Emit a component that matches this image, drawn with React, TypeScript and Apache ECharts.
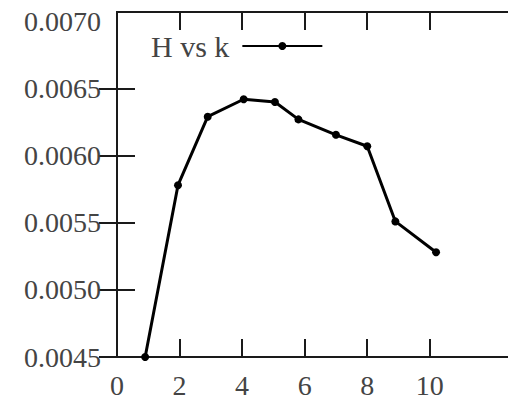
import React, { useEffect, useRef } from "react";
import * as echarts from "echarts";

const kValues = [0.9, 1.95, 2.9, 4.05, 5.05, 5.8, 7.0, 8.0, 8.9, 10.2];
const hValues = [0.0045, 0.00578, 0.00629, 0.00642, 0.0064, 0.00627, 0.006155, 0.00607, 0.00551, 0.00528];
const xTicks = [0, 2, 4, 6, 8, 10];
const yTicks = [0.0045, 0.005, 0.0055, 0.006, 0.0065];
const yLabels = [0.0045, 0.005, 0.0055, 0.006, 0.0065, 0.007];
const seriesName = "H vs k";

const FONT = "'Liberation Serif', 'DejaVu Serif', serif";
const INK = "#1a1a1a";

export default function App() {
  const ref = useRef<HTMLDivElement>(null);
  useEffect(() => {
    document.body.style.margin = "0";
    const chart = echarts.init(ref.current!, undefined, { renderer: "svg" });
    const axisLine = { show: true, lineStyle: { color: INK, width: 2 } };
    const tick = (vals: number[]) => ({
      show: true,
      inside: true,
      length: 18,
      lineStyle: { color: INK, width: 2 },
      customValues: vals,
    });
    chart.setOption({
      animation: false,
      backgroundColor: "#fff",
      grid: { left: 117, top: 12, width: 393, bottom: 43, containLabel: false },
      legend: {
        show: true,
        left: 146,
        top: 26,
        align: "right",
        itemWidth: 80,
        itemHeight: 10,
        itemGap: 10,
        textStyle: { fontFamily: FONT, fontSize: 30, color: "#444", padding: [0, 8, 0, 0] },
        data: [seriesName],
      },
      xAxis: [
        {
          type: "value",
          min: 0,
          max: 12.5,
          axisLine,
          axisTick: tick(xTicks),
          splitLine: { show: false },
          axisLabel: {
            customValues: xTicks,
            fontFamily: FONT,
            fontSize: 28,
            color: "#444",
            margin: 14,
          },
        },
        {
          type: "value",
          position: "top",
          min: 0,
          max: 12.5,
          axisLine,
          axisTick: tick(xTicks),
          splitLine: { show: false },
          axisLabel: { show: false },
        },
      ],
      yAxis: [
        {
          type: "value",
          min: 0.0045,
          max: 0.00707,
          axisLine,
          axisTick: tick(yTicks),
          splitLine: { show: false },
          axisLabel: {
            customValues: yLabels,
            formatter: (v: number) => v.toFixed(4),
            fontFamily: FONT,
            fontSize: 28,
            color: "#444",
            margin: 16,
          },
        },
        {
          type: "value",
          position: "right",
          min: 0.0045,
          max: 0.00707,
          axisLine,
          axisTick: tick(yTicks),
          splitLine: { show: false },
          axisLabel: { show: false },
        },
      ],
      series: [
        {
          name: seriesName,
          type: "line",
          data: kValues.map((k, i) => [k, hValues[i]]),
          symbol: "circle",
          symbolSize: 8,
          lineStyle: { color: "#000", width: 3 },
          itemStyle: { color: "#000" },
          clip: false,
        },
      ],
    });
    return () => chart.dispose();
  }, []);
  return <div ref={ref} style={{ width: 508, height: 400 }} />;
}
